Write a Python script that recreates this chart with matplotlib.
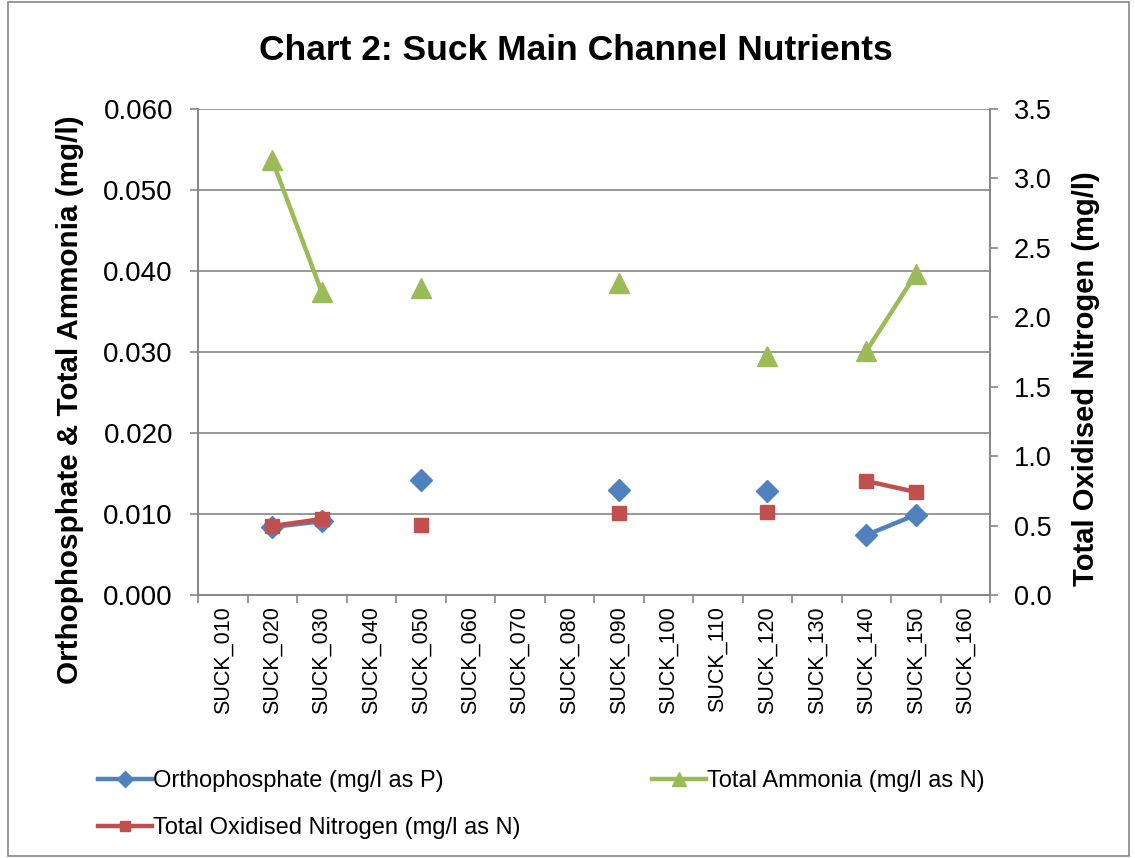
#! /usr/bin/env python3

import matplotlib.pyplot as plt
import numpy as np
from matplotlib.patches import Rectangle

plt.rcParams["font.family"] = ["Liberation Sans", "DejaVu Sans"]

sites = ["SUCK_010", "SUCK_020", "SUCK_030", "SUCK_040", "SUCK_050", "SUCK_060",
         "SUCK_070", "SUCK_080", "SUCK_090", "SUCK_100", "SUCK_110", "SUCK_120",
         "SUCK_130", "SUCK_140", "SUCK_150", "SUCK_160"]
nan = np.nan
ortho = [nan, 0.0084, 0.0091, nan, 0.0142, nan, nan, nan, 0.0130, nan, nan,
         0.0128, nan, 0.0074, 0.0099, nan]
ammonia = [nan, 0.0537, 0.0374, nan, 0.0379, nan, nan, nan, 0.0385, nan, nan,
           0.0295, nan, 0.0301, 0.0396, nan]
ton = [nan, 0.497, 0.547, nan, 0.504, nan, nan, nan, 0.590, nan, nan,
       0.598, nan, 0.821, 0.742, nan]

BLUE = "#4F81BD"
RED = "#C0504D"
GREEN = "#9BBB59"
GREY = "#868686"


def main():
    W, H = 1135, 858
    fig = plt.figure(figsize=(W / 100, H / 100), dpi=100)
    fig.patches.append(Rectangle((0.007, 0.002), 0.988, 0.996, transform=fig.transFigure,
                                 fill=False, edgecolor=GREY, linewidth=1.2))
    ax = fig.add_axes([198 / W, 1 - 595 / H, 792 / W, 486 / H])
    ax2 = ax.twinx()

    x = np.arange(len(sites))
    l1, = ax.plot(x, ortho, color=BLUE, lw=3.2, marker="D", ms=11,
                  label="Orthophosphate (mg/l as P)")
    l2, = ax.plot(x, ammonia, color=GREEN, lw=3.2, marker="^", ms=14,
                  label="Total Ammonia (mg/l as N)")
    l3, = ax2.plot(x, ton, color=RED, lw=3.2, marker="s", ms=10,
                   label="Total Oxidised Nitrogen (mg/l as N)")

    ax.set_xlim(-0.5, len(sites) - 0.5)
    ax.set_ylim(0, 0.060)
    ax2.set_ylim(0, 3.5)
    ax.set_yticks(np.arange(0, 0.0601, 0.010))
    ax.set_yticklabels([f"{v:.3f}" for v in np.arange(0, 0.0601, 0.010)])
    ax2.set_yticks(np.arange(0, 3.51, 0.5))
    ax2.set_yticklabels([f"{v:.1f}" for v in np.arange(0, 3.51, 0.5)])

    ax.set_xticks(x)
    ax.set_xticklabels(sites, rotation=90, fontsize=15.5)
    ax.set_xticks(np.arange(-0.5, len(sites)), minor=True)
    ax.tick_params(axis="x", which="major", length=0, pad=8)
    ax.tick_params(axis="x", which="minor", length=6, color=GREY, width=1.2)

    ax.tick_params(axis="y", labelsize=20, length=6, color=GREY, width=1.2, pad=12)
    ax2.tick_params(axis="y", labelsize=19.5, length=6, color=GREY, width=1.2, pad=11)

    ax.yaxis.grid(True, color=GREY, lw=1.2)
    ax.set_axisbelow(True)
    for a in (ax, ax2):
        a.spines["top"].set_visible(False)
        for s in ("left", "right", "bottom"):
            a.spines[s].set_color(GREY)
            a.spines[s].set_linewidth(1.2)

    fig.text(70 / W, 1 - 400 / H, "Orthophosphate & Total Ammonia (mg/l)",
             fontsize=21.3, fontweight="bold", rotation=90, ha="center", va="center")
    fig.text(1086 / W, 1 - 379 / H, "Total Oxidised Nitrogen (mg/l)",
             fontsize=21, fontweight="bold", rotation=90, ha="center", va="center")
    fig.text(576 / W, 1 - 51 / H, "Chart 2: Suck Main Channel Nutrients",
             fontsize=25.5, fontweight="bold", ha="center", va="center")

    fig.legend(handles=[l1, l3, l2], loc="upper left", bbox_to_anchor=(0.0676, 0.127),
               ncol=2, frameon=False, fontsize=17, handlelength=2.3,
               handletextpad=0.05, columnspacing=5.55, labelspacing=1.05,
               markerscale=0.75)

    fig.savefig("out.png")


if __name__ == "__main__":
    main()
